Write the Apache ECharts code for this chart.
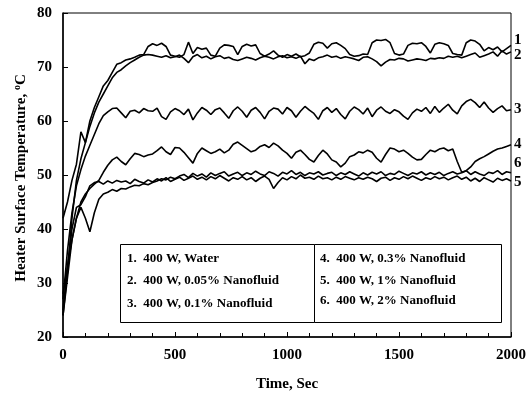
<!DOCTYPE html>
<html><head><meta charset="utf-8">
<script src="https://cdn.jsdelivr.net/npm/echarts@6/dist/echarts.min.js"></script>
<style>html,body{margin:0;padding:0;background:#fff}#c{width:529px;height:401px}</style>
</head><body><div id="c"></div>
<script>
var STEP = 20;
var xTicks = [0, 500, 1000, 1500, 2000];
var yTicks = [20, 30, 40, 50, 60, 70, 80];
var legendLabels = ['1.  400 W, Water','2.  400 W, 0.05% Nanofluid','3.  400 W, 0.1% Nanofluid',
  '4.  400 W, 0.3% Nanofluid','5.  400 W, 1% Nanofluid','6.  400 W, 2% Nanofluid'];
var endTags = ['1','2','3','4','5','6'];

var water = [42,45,49,52,58,56,60,62.5,64.5,66.5,
 67.5,69,70.5,70.8,71.3,71.5,71.8,72.2,72.3,73.8,
 74.3,74,74.4,73.8,72.2,72,71.8,72.3,74.6,72.5,
 73.6,73.3,73.5,72.2,72,73.5,74.1,74,73.8,72.3,
 73.8,74.2,73.9,74.1,72.5,72,72.4,73,72.2,71.8,
 72.3,72,72.4,71.9,72.1,72.6,74.2,74.6,74.4,73.5,
 74.3,74.5,74,73.4,72.3,72,72.1,72.4,72.3,74.5,
 75,74.9,75.1,74.5,72.5,72.2,72.4,74,74.4,74.3,
 74.5,73.8,72.6,74.2,74.5,74.3,74,72.5,72.3,72.2,
 74.5,75,74.8,74.2,73,73.6,73.2,73.7,72.8,73.4,74];
var nf005 = [24,32,42,49,53,56,59,61.5,63.5,65,
 66.5,68,69,69.5,70.2,70.8,71.3,71.8,72.2,72.3,
 72.2,72,71.8,72.1,71.7,71.9,72.2,71.6,70.8,71.9,
 72.3,71.7,72,71.5,71.9,72.1,71.6,71.8,71.4,71.2,
 71.5,71.8,71.6,71.3,71.7,72,71.8,71.5,71.9,72.1,
 71.7,71.9,71.6,72,70.6,71.5,71.2,71.7,71.9,72.2,
 71.8,72,71.6,71.9,71.7,71.5,71.2,71.8,71.9,71.5,
 71,70.2,70.9,71.4,71.3,71.6,71.5,71.1,71.3,71.5,
 71.4,71.2,71.6,71.5,71.7,71.6,72,71.8,72,71.7,
 72,72.3,72.6,71.8,72.1,72.4,72.8,72,73,72.4,72.8];
var nf01 = [27,36,43,48,51,53.5,55.5,57.5,59.5,61,
 61.7,62.3,62.4,61.5,60.6,61.8,62,61.5,62.3,61.9,
 61.8,62.4,60.8,60.3,61.7,62.3,61.9,61.2,62.2,60.2,
 61.5,62.5,62,61.2,62.1,62.4,61.5,60.5,61.9,62.6,
 61.8,60.7,62,62.5,61.6,60.4,61.8,62.4,62.2,61.3,
 62.5,61.9,60.7,61.8,62.7,62,61.4,60.3,61.9,62.5,
 61.6,62.3,61.2,60.4,61.8,62.6,62.1,61.3,62.4,60.8,
 62,62.6,61.8,61.4,62.1,61.7,60.9,60.3,61.5,62.2,
 61.8,62.5,61.4,62.7,61.6,62.4,63.1,62,61.3,62.8,
 63.6,64,63.4,62.5,63.5,62.4,61.6,62.3,62.8,61.9,62.1];
var nf03 = [28,33,38,42,45,46.5,47.5,48.3,49,50.5,
 51.8,52.8,53.3,52.5,51.9,53,54,53.8,53.4,53.7,
 53.9,54.5,55.2,54.3,53.8,55.1,55,54.2,53.2,52.2,
 54,55,54.5,54,54.3,54.8,54.1,54.6,55.7,56.1,
 55.5,54.9,54.3,54.6,55.3,55.6,55.1,55.9,55.4,54.6,
 54,53.1,54.2,54.6,53.8,52.9,52.4,53.6,54.6,53.9,
 52.8,52.4,51.5,52.2,53.4,53.7,54.3,54.1,54.6,54.2,
 53.1,52.4,53.8,55,54.8,54.3,54.6,54,53.3,52.8,
 52.9,53.8,54.6,54.3,54.8,55,54.5,54.8,52.5,50.5,
 50.8,51.5,52.5,53,53.4,53.9,54.4,54.8,55,55.3,55.6];
var nf1 = [25,33,40,44,44.5,46,48,48.6,48.8,48.3,
 48.9,48.5,49,48.7,48.9,48.4,49.2,48.8,48.5,49.1,
 48.7,49.3,48.9,49.5,48.8,49.2,49.6,49,49.4,49.8,
 49.2,49.6,49.1,49.7,49.3,49.9,49.4,48.9,49.5,49.2,
 49.7,49.1,49.5,48.8,49.4,49.8,49.2,47.5,48.6,49.5,
 49.1,49.7,49.3,50,49.4,49.6,49.2,49.8,49.3,49.5,
 49.1,49.6,49.2,49.7,49.4,49.1,49.5,49.2,49.6,49.3,
 48.8,49.4,49.6,49,49.5,49.2,49.7,49.3,49.8,49.4,
 49,49.5,49.2,49.7,49.3,49.6,49.1,49.5,49.8,49.2,
 49.6,48.9,49.4,48.8,49.5,49.1,48.7,49.4,49,49.3,48.9];
var nf2 = [24,31,38,42,44,42,39.5,43,45.5,46.5,
 46.8,47.3,47,47.5,47.4,47.8,48.1,48,48.4,48.2,
 48.6,48.9,49.3,49.1,49.6,49.3,49.8,50.1,49.5,50.3,
 49.8,50.2,49.6,50.4,49.9,50.3,50.6,49.8,50.2,50.5,
 49.9,50.4,50.1,50.7,50.2,49.9,50.6,50.3,49.8,50.5,
 50.2,50.8,50.1,50.5,49.9,50.4,50.2,50.6,50,50.3,
 50.5,49.9,50.4,50.1,50.6,50.2,49.8,50.4,50,50.5,
 50.2,50.6,49.9,50.3,50.1,50.7,50.3,49.9,50.4,50.2,
 50.6,50,50.4,50.1,50.5,49.9,50.3,50.6,50.2,50.4,
 50.8,50.1,50.6,50.2,49.9,50.5,50.3,50.8,50.1,50.6,50.4];

var allSeries = [water, nf005, nf01, nf03, nf1, nf2];

function pairs(arr){ return arr.map(function(v,i){ return [i*STEP, v]; }); }

var FONT = '"Liberation Serif", "Times New Roman", serif';
var chart = echarts.init(document.getElementById('c'), null, {renderer:'canvas'});

var series = allSeries.map(function(arr, k){
  return {type:'line', name: legendLabels[k], data: pairs(arr), showSymbol:false, symbol:'none',
    lineStyle:{color:'#000', width:1.6}, itemStyle:{color:'#000'}, animation:false, z:3};
});

var tagY = {'1':41,'2':56,'3':110,'4':145,'6':164,'5':183};
var graphics = [];
endTags.forEach(function(t){
  graphics.push({type:'text', left:514, top:tagY[t]-8, style:{text:t, font:'bold 15px '+FONT, fill:'#000'}});
});
graphics.push({type:'rect', shape:{x:120.5,y:244.5,width:194,height:78}, style:{fill:'#fff', stroke:'#000', lineWidth:1}, z:10});
graphics.push({type:'rect', shape:{x:314.5,y:244.5,width:187,height:78}, style:{fill:'#fff', stroke:'#000', lineWidth:1}, z:10});
var lgY = [259, 281, 304, 259, 281, 301];
legendLabels.forEach(function(t,k){
  graphics.push({type:'text', x: k<3 ? 127 : 320, y: lgY[k], z:11,
    style:{text:t, font:'bold 13px '+FONT, fill:'#000', verticalAlign:'middle'}});
});
// y-axis title with superscript degree sign
graphics.push({type:'text', x:21, y:178, rotation:Math.PI/2, z:11,
  style:{text:'Heater Surface Temperature, {sup|o}C', align:'center', verticalAlign:'middle',
    font:'bold 15px '+FONT, fill:'#000',
    rich:{sup:{font:'bold 10px '+FONT, fill:'#000', padding:[0,0,8,0]}}}});

chart.setOption({
  animation:false,
  backgroundColor:'#fff',
  grid:{left:63, right:17, top:13, bottom:64, show:true, borderColor:'#000', borderWidth:1, backgroundColor:'transparent'},
  xAxis:{type:'value', min:xTicks[0], max:xTicks[xTicks.length-1], interval:500,
    axisLine:{show:true, lineStyle:{color:'#000', width:1.5}},
    axisTick:{show:true, inside:true, length:5, lineStyle:{color:'#000'}},
    minorTick:{show:true, splitNumber:5, length:4, lineStyle:{color:'#000'}},
    splitLine:{show:false},
    axisLabel:{color:'#000', fontFamily:FONT, fontWeight:'bold', fontSize:15, margin:11,
      formatter:function(v){ return String(v); }},
    name:'Time, Sec', nameLocation:'middle', nameGap:40,
    nameTextStyle:{color:'#000', fontFamily:FONT, fontWeight:'bold', fontSize:15}},
  yAxis:{type:'value', min:yTicks[0], max:yTicks[yTicks.length-1], interval:10,
    axisLine:{show:true, lineStyle:{color:'#000', width:1.5}},
    axisTick:{show:true, inside:true, length:5, lineStyle:{color:'#000'}},
    splitLine:{show:false},
    axisLabel:{color:'#000', fontFamily:FONT, fontWeight:'bold', fontSize:15, margin:11,
      formatter:function(v){ return String(v); }}},
  series: series,
  graphic: graphics
});
</script></body></html>
